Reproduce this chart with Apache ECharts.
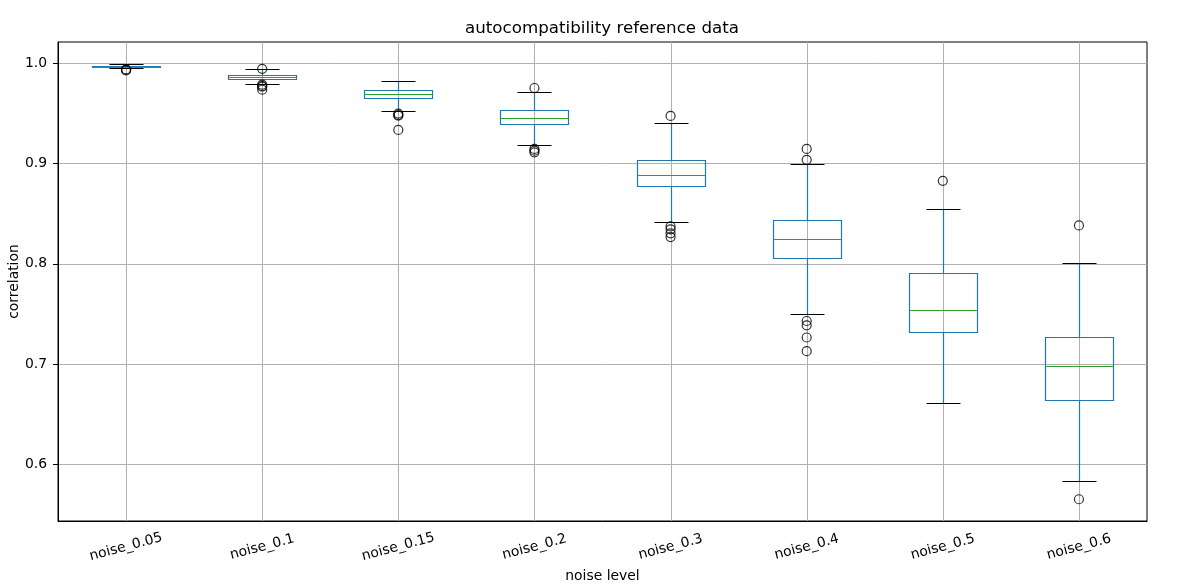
<!DOCTYPE html>
<html>
<head>
<meta charset="utf-8">
<script src="https://cdn.jsdelivr.net/npm/echarts@6/dist/echarts.min.js"></script>
<style>html,body{margin:0;padding:0;background:#fff}#chart{width:1202px;height:586px}</style>
</head>
<body>
<div id="chart"></div>
<script>
// ---- data ----
const categories = ['noise_0.05','noise_0.1','noise_0.15','noise_0.2','noise_0.3','noise_0.4','noise_0.5','noise_0.6'];
const whiskerLow  = [0.9954, 0.9795, 0.9526, 0.9187, 0.8420, 0.7504, 0.6610, 0.5834];
const q1          = [0.9962, 0.9848, 0.9655, 0.9396, 0.8779, 0.8062, 0.7318, 0.6637];
const median      = [0.9969, 0.9868, 0.9695, 0.9456, 0.8888, 0.8251, 0.7544, 0.6980];
const q3          = [0.9977, 0.9884, 0.9735, 0.9536, 0.9038, 0.8440, 0.7912, 0.7275];
const whiskerHigh = [0.9997, 0.9941, 0.9825, 0.9715, 0.9410, 0.8998, 0.8550, 0.8005];
const outliers = [
  [0.9940, 0.9935, 0.9930],
  [0.9946, 0.9788, 0.9775, 0.9768, 0.9738],
  [0.9500, 0.9485, 0.9478, 0.9337],
  [0.9755, 0.9147, 0.9130, 0.9113],
  [0.9476, 0.8374, 0.8345, 0.8305, 0.8267],
  [0.9147, 0.9038, 0.7430, 0.7387, 0.7265, 0.7129],
  [0.8829],
  [0.8384, 0.5651]
];
const yTicks = [0.6, 0.7, 0.8, 0.9, 1.0];
const yMin = 0.5434, yMax = 1.0214;

// ---- build ----
const boxData = categories.map((c, i) => [i, whiskerLow[i], q1[i], median[i], q3[i], whiskerHigh[i]]);
const outlierData = [];
outliers.forEach((arr, i) => arr.forEach(v => outlierData.push([i, v])));

const FONT = 'DejaVu Sans';
const BLUE = '#1f77b4', GREEN = '#2ca02c';
const px = v => Math.round(v) + 0.5;

function renderBox(params, api) {
  const i = api.value(0);
  const cx = px(api.coord([i, api.value(3)])[0]);
  const bw = api.size([1, 0])[0];
  const hw = bw * 0.25, cw = bw * 0.125;
  const y = k => px(api.coord([i, api.value(k)])[1]);
  const yl = y(1), yq1 = y(2), ym = y(3), yq3 = y(4), yh = y(5);
  const cs = params.coordSys;
  const lw = 1.2;
  return {
    type: 'group',
    children: [
      {type: 'line', shape: {x1: cx, y1: cs.y, x2: cx, y2: cs.y + cs.height}, style: {stroke: '#b0b0b0', lineWidth: 1}, z2: 0},
      {type: 'line', shape: {x1: cx, y1: yl, x2: cx, y2: yq1}, style: {stroke: BLUE, lineWidth: lw}, z2: 1},
      {type: 'line', shape: {x1: cx, y1: yq3, x2: cx, y2: yh}, style: {stroke: BLUE, lineWidth: lw}, z2: 1},
      {type: 'rect', shape: {x: px(cx - hw), y: yq3, width: Math.round(2 * hw), height: yq1 - yq3}, style: {stroke: BLUE, fill: null, lineWidth: lw}, z2: 2},
      {type: 'line', shape: {x1: px(cx - hw), y1: ym, x2: px(cx - hw) + Math.round(2 * hw), y2: ym}, style: {stroke: GREEN, lineWidth: lw}, z2: 3},
      {type: 'line', shape: {x1: cx - cw, y1: yl, x2: cx + cw, y2: yl}, style: {stroke: '#000', lineWidth: lw}, z2: 3},
      {type: 'line', shape: {x1: cx - cw, y1: yh, x2: cx + cw, y2: yh}, style: {stroke: '#000', lineWidth: lw}, z2: 3}
    ]
  };
}

const chart = echarts.init(document.getElementById('chart'), null, {renderer: 'canvas'});
chart.setOption({
  animation: false,
  backgroundColor: '#fff',
  textStyle: {fontFamily: FONT},
  title: {
    text: 'autocompatibility reference data',
    left: 465, top: 20, padding: 0,
    textStyle: {fontFamily: FONT, fontSize: 16.7, fontWeight: 'normal', color: '#000'}
  },
  grid: {left: 58, right: 55, top: 42, bottom: 65, containLabel: false, outerBoundsMode: 'none', show: true, borderColor: '#000', borderWidth: 1, backgroundColor: 'transparent'},
  xAxis: {
    type: 'category',
    data: categories,
    boundaryGap: true,
    name: 'noise level',
    nameLocation: 'middle',
    nameGap: 48,
    nameTextStyle: {fontFamily: FONT, fontSize: 13.9, color: '#000'},
    axisLine: {lineStyle: {color: '#000', width: 1}},
    axisTick: {alignWithLabel: true, length: 5, lineStyle: {color: '#000'}},
    axisLabel: {interval: 0, rotate: 15, align: 'center', verticalAlign: 'middle', margin: 26, fontFamily: FONT, fontSize: 13.9, color: '#000'},
    splitLine: {show: false}
  },
  yAxis: {
    type: 'value',
    min: yMin, max: yMax,
    name: 'correlation',
    nameLocation: 'middle',
    nameGap: 37,
    nameMoveOverlap: false,
    nameTextStyle: {fontFamily: FONT, fontSize: 13.9, color: '#000'},
    axisLine: {show: true, lineStyle: {color: '#000', width: 1}},
    axisTick: {show: true, length: 5, lineStyle: {color: '#000'}, customValues: yTicks},
    axisLabel: {customValues: yTicks, margin: 11, fontFamily: FONT, fontSize: 13.9, color: '#000', formatter: v => v.toFixed(1)},
    splitLine: {show: true, lineStyle: {color: '#b0b0b0', width: 1}}
  },
  series: [
    {
      type: 'custom',
      renderItem: renderBox,
      data: boxData,
      encode: {x: 0, y: [1, 2, 3, 4, 5]},
      z: 2
    },
    {
      type: 'scatter',
      data: outlierData,
      symbol: 'circle',
      symbolSize: 9,
      itemStyle: {color: 'transparent', borderColor: '#000', borderWidth: 1.2},
      z: 3
    }
  ]
});
</script>
</body>
</html>
